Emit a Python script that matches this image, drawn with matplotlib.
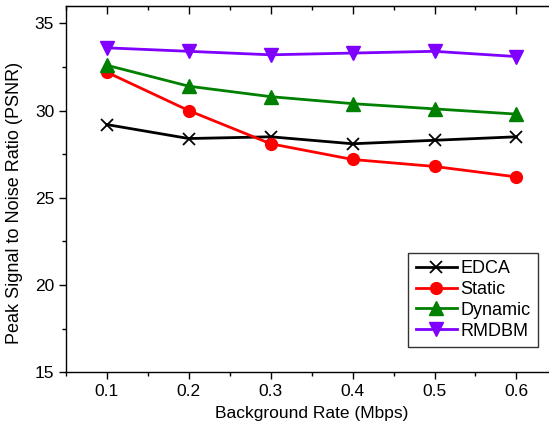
import matplotlib
matplotlib.use("Agg")
import matplotlib.pyplot as plt
from matplotlib.ticker import MultipleLocator

plt.rcParams['font.family'] = ['Liberation Sans', 'DejaVu Sans']

rates = [0.1, 0.2, 0.3, 0.4, 0.5, 0.6]
rate_labels = ['0.1', '0.2', '0.3', '0.4', '0.5', '0.6']
edca = [29.2, 28.4, 28.5, 28.1, 28.3, 28.5]
static = [32.2, 30.0, 28.1, 27.2, 26.8, 26.2]
dynamic = [32.6, 31.4, 30.8, 30.4, 30.1, 29.8]
rmdbm = [33.6, 33.4, 33.2, 33.3, 33.4, 33.1]

fig = plt.figure(figsize=(5.49, 4.32), dpi=100)
ax = fig.add_axes([0.1202, 0.1382, 0.895, 0.848])

lw = 2
ax.plot(rates, edca, color='black', lw=lw, marker='x', ms=9, mew=1.3, label='EDCA')
ax.plot(rates, static, color='#FF0000', lw=lw, marker='o', ms=8.5, label='Static')
ax.plot(rates, dynamic, color='#008000', lw=lw, marker='^', ms=9.5, label='Dynamic')
ax.plot(rates, rmdbm, color='#7F00FF', lw=lw, marker='v', ms=9.5, label='RMDBM')

ax.set_xlim(0.05, 0.65)
ax.set_ylim(15, 36)
ax.set_xticks(rates)
ax.set_xticklabels(rate_labels)
ax.xaxis.set_minor_locator(MultipleLocator(0.05))
ax.yaxis.set_major_locator(MultipleLocator(5))
ax.yaxis.set_minor_locator(MultipleLocator(2.5))

ax.tick_params(axis='both', which='major', direction='out', length=5, width=1, labelsize=12.5)
ax.tick_params(axis='both', which='minor', direction='out', length=3, width=1)
ax.tick_params(axis='x', which='both', top=False)

# inward ticks along the top edge
top = ax.secondary_xaxis('top')
top.set_xticks(rates)
top.xaxis.set_minor_locator(MultipleLocator(0.05))
top.tick_params(which='major', direction='in', length=6, width=1, labeltop=False)
top.tick_params(which='minor', direction='in', length=3, width=1)
top.set_xticklabels([])

for s in ax.spines.values():
    s.set_linewidth(1)

ax.set_xlabel('Background Rate (Mbps)', fontsize=12.5, labelpad=5)
ax.set_ylabel('Peak Signal to Noise Ratio (PSNR)', fontsize=13)
ax.yaxis.set_label_coords(-0.087, 0.462)

leg = ax.legend(loc='lower right', fontsize=13,
                frameon=True, fancybox=False, edgecolor='black', handlelength=2.3,
                handletextpad=0.2, borderpad=0.4, labelspacing=0.22, borderaxespad=0,
                bbox_to_anchor=(538 / 549, (432 - 347) / 432),
                bbox_transform=fig.transFigure)
leg.get_frame().set_linewidth(1)

fig.savefig('out.png', dpi=100)
